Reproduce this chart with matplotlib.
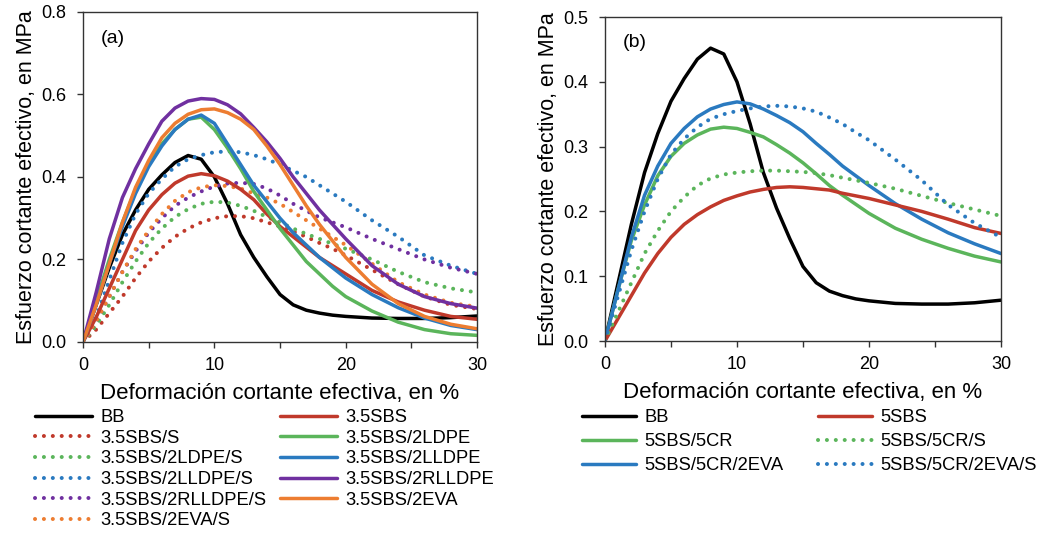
import numpy as np
import matplotlib
matplotlib.use("Agg")
import matplotlib.pyplot as plt
from matplotlib.ticker import MultipleLocator, FormatStrFormatter

plt.rcParams['font.family'] = ['Liberation Sans', 'DejaVu Sans']

# strain grid (%) shared by every curve
strain = [0, 1, 2, 3, 4, 5, 6, 7, 8, 9, 10, 11, 12, 13, 14, 15, 16, 17, 18, 19, 20, 22, 24, 26, 28, 30]

# base binder, used in both panels
bb = [0, 0.09, 0.18, 0.26, 0.32, 0.37, 0.405, 0.435, 0.452, 0.443, 0.40, 0.335, 0.26, 0.205, 0.158, 0.115,
      0.09, 0.077, 0.07, 0.065, 0.062, 0.058, 0.057, 0.057, 0.059, 0.063]

# panel (a) - 3.5% SBS blends
sbs35 = [0, 0.06, 0.13, 0.2, 0.27, 0.32, 0.357, 0.385, 0.402, 0.408, 0.403, 0.39, 0.37, 0.345, 0.31, 0.28,
         0.255, 0.23, 0.205, 0.185, 0.165, 0.125, 0.097, 0.077, 0.062, 0.055]
sbs35_ldpe = [0, 0.1, 0.2, 0.29, 0.37, 0.43, 0.48, 0.515, 0.54, 0.545, 0.515, 0.47, 0.42, 0.365, 0.32, 0.275,
              0.235, 0.195, 0.165, 0.135, 0.11, 0.075, 0.048, 0.03, 0.02, 0.016]
sbs35_lldpe = [0, 0.09, 0.19, 0.28, 0.36, 0.425, 0.475, 0.515, 0.54, 0.55, 0.53, 0.48, 0.43, 0.38, 0.34, 0.3,
               0.265, 0.235, 0.205, 0.18, 0.155, 0.115, 0.083, 0.058, 0.04, 0.03]
sbs35_rlldpe = [0, 0.12, 0.25, 0.35, 0.42, 0.48, 0.535, 0.567, 0.584, 0.59, 0.588, 0.575, 0.553, 0.52, 0.485,
                0.445, 0.4, 0.36, 0.32, 0.285, 0.25, 0.185, 0.14, 0.11, 0.093, 0.082]
sbs35_eva = [0, 0.09, 0.19, 0.29, 0.375, 0.44, 0.495, 0.53, 0.552, 0.563, 0.565, 0.556, 0.54, 0.515, 0.475,
             0.43, 0.38, 0.33, 0.285, 0.245, 0.205, 0.14, 0.093, 0.062, 0.043, 0.032]
sbs35_s = [0, 0.03, 0.07, 0.11, 0.155, 0.195, 0.228, 0.255, 0.275, 0.29, 0.3, 0.305, 0.305, 0.3, 0.29, 0.28,
           0.268, 0.255, 0.24, 0.226, 0.21, 0.175, 0.14, 0.11, 0.09, 0.08]
sbs35_ldpe_s = [0, 0.04, 0.09, 0.145, 0.195, 0.24, 0.275, 0.303, 0.322, 0.335, 0.34, 0.338, 0.33, 0.318, 0.303,
                0.29, 0.275, 0.262, 0.25, 0.238, 0.226, 0.2, 0.17, 0.145, 0.13, 0.12]
sbs35_lldpe_s = [0, 0.06, 0.15, 0.24, 0.31, 0.36, 0.395, 0.425, 0.443, 0.453, 0.46, 0.462, 0.46, 0.453, 0.443,
                 0.43, 0.415, 0.4, 0.38, 0.36, 0.34, 0.295, 0.255, 0.21, 0.185, 0.165]
sbs35_rlldpe_s = [0, 0.05, 0.11, 0.17, 0.22, 0.265, 0.3, 0.33, 0.35, 0.365, 0.377, 0.384, 0.386, 0.383, 0.372,
                  0.355, 0.335, 0.318, 0.302, 0.29, 0.278, 0.25, 0.225, 0.2, 0.18, 0.165]
sbs35_eva_s = [0, 0.05, 0.11, 0.17, 0.225, 0.27, 0.31, 0.342, 0.363, 0.375, 0.38, 0.378, 0.372, 0.36, 0.35,
               0.335, 0.315, 0.295, 0.275, 0.255, 0.235, 0.19, 0.145, 0.115, 0.095, 0.085]

# panel (b) - 5% SBS blends with crumb rubber
sbs5 = [0, 0.035, 0.07, 0.105, 0.135, 0.16, 0.18, 0.195, 0.207, 0.217, 0.224, 0.23, 0.234, 0.237, 0.238, 0.237,
        0.235, 0.233, 0.228, 0.224, 0.22, 0.21, 0.2, 0.188, 0.175, 0.166]
sbs5_cr = [0, 0.08, 0.155, 0.21, 0.255, 0.285, 0.305, 0.318, 0.327, 0.33, 0.328, 0.322, 0.315, 0.303, 0.29,
           0.275, 0.258, 0.24, 0.225, 0.211, 0.197, 0.174, 0.157, 0.143, 0.131, 0.122]
sbs5_cr_eva = [0, 0.08, 0.16, 0.225, 0.27, 0.305, 0.328, 0.346, 0.358, 0.365, 0.369, 0.366, 0.358, 0.348, 0.337,
               0.323, 0.305, 0.288, 0.27, 0.255, 0.24, 0.212, 0.188, 0.167, 0.15, 0.135]
sbs5_cr_s = [0, 0.045, 0.09, 0.135, 0.17, 0.2, 0.222, 0.24, 0.251, 0.257, 0.26, 0.262, 0.263, 0.263, 0.262,
             0.261, 0.259, 0.256, 0.252, 0.248, 0.244, 0.235, 0.224, 0.213, 0.203, 0.193]
sbs5_cr_eva_s = [0, 0.07, 0.14, 0.2, 0.25, 0.288, 0.312, 0.33, 0.343, 0.35, 0.355, 0.359, 0.362, 0.363, 0.362,
                 0.359, 0.354, 0.345, 0.335, 0.322, 0.31, 0.28, 0.248, 0.21, 0.182, 0.16]

RED = '#C0392B'
GREEN = '#5BB55B'
BLUE = '#2A7AC0'
PURPLE = '#7030A0'
ORANGE = '#ED7D31'

solid = dict(lw=2.5, solid_capstyle='round', solid_joinstyle='round')
dotted = dict(lw=2.9, linestyle=(0, (0.01, 2.2)), dash_capstyle='round')

fig = plt.figure(figsize=(10.51, 5.34), dpi=100)
ax1 = fig.add_axes([0.079, 0.3596, 0.3749, 0.618])
ax2 = fig.add_axes([0.5756, 0.3614, 0.3768, 0.6067])

# panel (a)
ax1.plot(strain, bb, color='black', label='BB', **solid)
ax1.plot(strain, sbs35_s, color=RED, label='3.5SBS/S', **dotted)
ax1.plot(strain, sbs35_ldpe_s, color=GREEN, label='3.5SBS/2LDPE/S', **dotted)
ax1.plot(strain, sbs35_lldpe_s, color=BLUE, label='3.5SBS/2LLDPE/S', **dotted)
ax1.plot(strain, sbs35_rlldpe_s, color=PURPLE, label='3.5SBS/2RLLDPE/S', **dotted)
ax1.plot(strain, sbs35_eva_s, color=ORANGE, label='3.5SBS/2EVA/S', **dotted)
ax1.plot(strain, sbs35, color=RED, label='3.5SBS', **solid)
ax1.plot(strain, sbs35_ldpe, color=GREEN, label='3.5SBS/2LDPE', **solid)
ax1.plot(strain, sbs35_lldpe, color=BLUE, label='3.5SBS/2LLDPE', **solid)
ax1.plot(strain, sbs35_rlldpe, color=PURPLE, label='3.5SBS/2RLLDPE', **solid)
ax1.plot(strain, sbs35_eva, color=ORANGE, label='3.5SBS/2EVA', **solid)

# panel (b)
ax2.plot(strain, bb, color='black', label='BB', **solid)
ax2.plot(strain, sbs5_cr, color=GREEN, label='5SBS/5CR', **solid)
ax2.plot(strain, sbs5_cr_eva, color=BLUE, label='5SBS/5CR/2EVA', **solid)
ax2.plot(strain, sbs5, color=RED, label='5SBS', **solid)
ax2.plot(strain, sbs5_cr_s, color=GREEN, label='5SBS/5CR/S', **dotted)
ax2.plot(strain, sbs5_cr_eva_s, color=BLUE, label='5SBS/5CR/2EVA/S', **dotted)

for ax, ymax, ystep, tag in [(ax1, 0.8, 0.2, '(a)'), (ax2, 0.5, 0.1, '(b)')]:
    ax.set_xlim(0, 30)
    ax.set_ylim(0, ymax)
    ax.xaxis.set_major_locator(MultipleLocator(10))
    ax.xaxis.set_minor_locator(MultipleLocator(5))
    ax.yaxis.set_major_locator(MultipleLocator(ystep))
    ax.yaxis.set_major_formatter(FormatStrFormatter('%.1f'))
    ax.tick_params(which='both', direction='out', labelsize=13, color='#333333', width=1, length=4)
    ax.tick_params(axis='x', which='major', pad=7)
    ax.tick_params(axis='y', which='major', pad=8)
    for sp in ax.spines.values():
        sp.set_color('#333333')
        sp.set_linewidth(1.0)
    ax.set_xlabel('Deformación cortante efectiva, en %', fontsize=16, labelpad=6)
    ax.set_ylabel('Esfuerzo cortante efectivo, en MPa', fontsize=15.5, labelpad=3)
    ax.text(0.045, 0.92, tag, transform=ax.transAxes, fontsize=14, va='center', ha='left')

leg_kw = dict(frameon=False, handlelength=3.1, handletextpad=0.45,
              borderpad=0, borderaxespad=0, loc='upper left')
h1, l1 = ax1.get_legend_handles_labels()
fig.legend(h1, l1, ncol=2, fontsize=13.2, labelspacing=0.2, columnspacing=0.75,
           bbox_to_anchor=(35 / 1051, 1 - 409 / 534), **leg_kw)
h2, l2 = ax2.get_legend_handles_labels()
fig.legend(h2, l2, ncol=2, fontsize=13.2, labelspacing=0.38, columnspacing=1.9, handlelength=2.95,
           bbox_to_anchor=(582 / 1051, 1 - 409 / 534),
           **{k: v for k, v in leg_kw.items() if k != 'handlelength'})

fig.savefig('out.png', dpi=100)
